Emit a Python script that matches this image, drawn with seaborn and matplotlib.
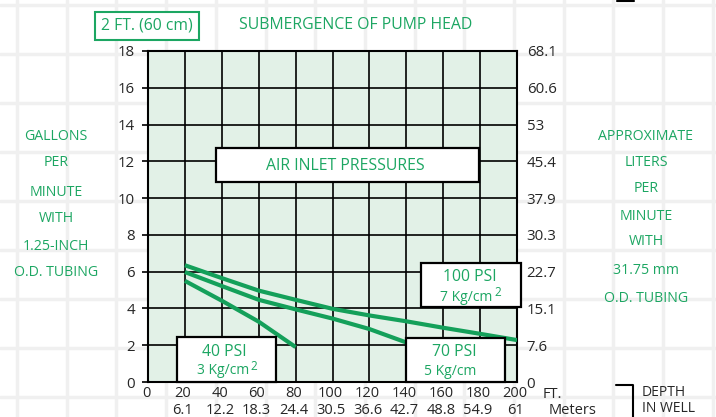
import numpy as np
import pandas as pd
import seaborn as sns
import matplotlib.pyplot as plt
import matplotlib.transforms as mtransforms
from matplotlib.patches import Rectangle
from matplotlib.lines import Line2D

# values: depth in well (ft) vs gallons per minute
depth_40 = [20, 40, 60, 80]
gpm_40 = [5.5, 4.42, 3.28, 1.9]
depth_70 = [20, 40, 60, 80, 100, 120, 140]
gpm_70 = [5.98, 5.22, 4.47, 3.95, 3.45, 2.88, 2.15]
depth_100 = [20, 40, 60, 80, 100, 120, 140, 160, 180, 200]
gpm_100 = [6.35, 5.65, 4.97, 4.47, 3.98, 3.62, 3.3, 2.95, 2.62, 2.28]

ft_ticks = [0, 20, 40, 60, 80, 100, 120, 140, 160, 180, 200]
meter_labels = ["", "6.1", "12.2", "18.3", "24.4", "30.5", "36.6", "42.7", "48.8", "54.9", "61"]
gpm_ticks = [0, 2, 4, 6, 8, 10, 12, 14, 16, 18]
lpm_labels = ["0", "7.6", "15.1", "22.7", "30.3", "37.9", "45.4", "53", "60.6", "68.1"]

left_label = ["GALLONS", "PER", "MINUTE", "WITH", "1.25-INCH", "O.D. TUBING"]
right_label = ["APPROXIMATE", "LITERS", "PER", "MINUTE", "WITH", "31.75 mm", "O.D. TUBING"]

GREEN_TXT = "#1ca662"
GREEN_LINE = "#14a05a"
FILL = "#e2f1e7"
DARK = "#262626"

df = pd.concat([
    pd.DataFrame({"depth": depth_40, "gpm": gpm_40, "psi": "40"}),
    pd.DataFrame({"depth": depth_70, "gpm": gpm_70, "psi": "70"}),
    pd.DataFrame({"depth": depth_100, "gpm": gpm_100, "psi": "100"}),
])

sns.set_style("white")
plt.rcParams['font.family'] = ['Open Sans', 'DejaVu Sans']

W, H = 716, 417
fig = plt.figure(figsize=(7.16, 4.17), dpi=100)


def fx(px):
    return px / W


def fy(py):
    return 1 - py / H


# faint page grid in the background
for px in np.arange(17, 716, 49.7):
    fig.add_artist(Line2D([fx(px)] * 2, [0, 1], color="#f0f0f0", lw=2.5, zorder=-5))
for py in np.arange(5, 417, 49.0):
    fig.add_artist(Line2D([0, 1], [fy(py)] * 2, color="#f0f0f0", lw=2.5, zorder=-5))

ax = fig.add_axes([fx(148), fy(382), (517 - 148) / W, (382 - 51) / H])
ax.set_facecolor(FILL)

sns.lineplot(data=df, x="depth", y="gpm", hue="psi", ax=ax, legend=False,
             palette={"40": GREEN_LINE, "70": GREEN_LINE, "100": GREEN_LINE},
             lw=3, solid_capstyle="butt", zorder=3)

ax.set_xlim(0, 200)
ax.set_ylim(0, 18)
ax.set_xlabel("")
ax.set_ylabel("")
ax.set_xticks(ft_ticks)
ax.set_xticklabels([f"{f}\n{m}" if m else str(f) for f, m in zip(ft_ticks, meter_labels)])
ax.set_yticks(gpm_ticks)
ax.grid(True, color="black", lw=1.2)
ax.set_axisbelow(True)
for s in ax.spines.values():
    s.set_color("black")
    s.set_linewidth(1.5)
ax.tick_params(axis="y", length=4.5, width=1.2, pad=5, labelsize=10.8, labelcolor=DARK, color="black", left=True)
ax.tick_params(axis="x", length=0, pad=3, labelsize=10.5, labelcolor=DARK)
shift = mtransforms.ScaledTranslation(-2 / 100, 0, fig.dpi_scale_trans)
for lab in ax.get_xticklabels():
    lab.set_transform(lab.get_transform() + shift)

ax2 = ax.twinx()
ax2.set_ylim(0, 18)
ax2.set_yticks(gpm_ticks)
ax2.set_yticklabels(lpm_labels)
ax2.tick_params(axis="y", length=0, pad=7, labelsize=10.8, labelcolor=DARK)
for s in ax2.spines.values():
    s.set_visible(False)


def box(x0, y0, w, h):
    ax2.add_patch(Rectangle((x0, y0), w, h, transform=ax.transData, fc="white",
                            ec="black", lw=1.6, zorder=5, clip_on=False))


def gtext(x, y, s, size, **kw):
    ax2.text(x, y, s, transform=ax.transData, color=GREEN_TXT, fontsize=size,
             ha="center", va="center", zorder=6, clip_on=False, **kw)


# label boxes
box(36.7, 10.89, 142.7, 1.82)
gtext(106.8, 11.75, "AIR INLET PRESSURES", 11.4)

box(148.0, 4.09, 54.0, 2.38)
gtext(174.5, 5.73, "100 PSI", 11.3)
gtext(172.7, 4.62, "7 Kg/cm", 10)
gtext(189.6, 4.85, "2", 8.5)

box(15.6, 0, 53.6, 2.43)
gtext(41.2, 1.65, "40 PSI", 11.3)
gtext(40.5, 0.6, "3 Kg/cm", 10)
gtext(57.5, 0.83, "2", 8.5)

box(139.8, 0, 53.7, 2.38)
gtext(165.9, 1.65, "70 PSI", 11.3)
gtext(163.7, 0.56, "5 Kg/cm", 10)

# titles above the grid
fig.text(fx(147), fy(26), "2 FT. (60 cm)", color=GREEN_TXT, fontsize=11.3, ha="center", va="center",
         bbox=dict(boxstyle="square,pad=0.38", fc="white", ec=GREEN_TXT, lw=1.5))
fig.text(fx(356), fy(25), "SUBMERGENCE OF PUMP HEAD", color=GREEN_TXT, fontsize=11.4,
         ha="center", va="center")

# side captions
for s, py in zip(left_label, [137, 163, 192, 218, 246, 273]):
    fig.text(fx(56), fy(py), s, color=GREEN_TXT, fontsize=10.2, ha="center", va="center")
for s, py in zip(right_label, [136, 162, 188, 216, 242, 270, 298]):
    fig.text(fx(646), fy(py), s, color=GREEN_TXT, fontsize=10.2, ha="center", va="center")

# bottom axis notes
fig.text(fx(543), fy(394), "FT.", color=DARK, fontsize=10.5, ha="left", va="center")
fig.text(fx(549), fy(410), "Meters", color=DARK, fontsize=10.5, ha="left", va="center")
fig.text(fx(642), fy(393), "DEPTH", color=DARK, fontsize=10, ha="left", va="center")
fig.text(fx(642), fy(408.5), "IN WELL", color=DARK, fontsize=10, ha="left", va="center")
fig.add_artist(Line2D([fx(616), fx(633), fx(633)], [fy(385), fy(385), fy(417)], color="black", lw=1.5))
fig.add_artist(Line2D([fx(617), fx(634)], [fy(1), fy(1)], color="black", lw=1.5))

plt.savefig("out.png", dpi=100)
